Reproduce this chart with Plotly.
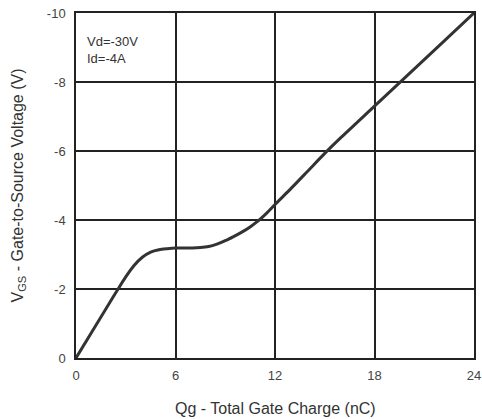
import plotly.graph_objects as go

qg_nc = [0, 1, 2, 2.5, 3, 3.5, 4, 4.5, 5, 5.5, 6, 6.5, 7, 7.5, 8, 8.5, 9, 9.5, 10, 10.5, 11, 11.5, 12, 13, 14, 15, 16, 18, 20, 22, 24]
vgs_v = [0, -0.79, -1.58, -1.97, -2.35, -2.68, -2.92, -3.07, -3.14, -3.17, -3.19, -3.19, -3.19, -3.2, -3.23, -3.3, -3.4, -3.52, -3.65, -3.8, -3.98, -4.2, -4.45, -4.93, -5.43, -5.93, -6.4, -7.3, -8.2, -9.1, -10.0]

x_ticks = [0, 6, 12, 18, 24]
y_ticks = [0, -2, -4, -6, -8, -10]

FONT = "Liberation Sans, Arial, sans-serif"

fig = go.Figure()
fig.add_trace(go.Scatter(x=qg_nc, y=vgs_v, mode="lines",
                         line=dict(color="#333333", width=3, shape="spline", smoothing=0.8),
                         showlegend=False, hoverinfo="skip"))

axis_common = dict(showgrid=True, gridcolor="#222222", gridwidth=1.5,
                   showline=True, linecolor="#222222", linewidth=1.5, mirror=True,
                   zeroline=False, ticks="", automargin=False,
                   tickfont=dict(family=FONT, size=13, color="#444444"))

fig.update_xaxes(range=[0, 24], tickvals=x_ticks, ticktext=[str(v) for v in x_ticks],
                 ticklabelstandoff=5, **axis_common)
fig.update_yaxes(range=[0, -10], tickvals=y_ticks, ticktext=[str(v) for v in y_ticks],
                 ticklabelstandoff=6, **axis_common)

fig.add_annotation(x=0.5, y=0, xref="paper", yref="paper", xanchor="center", yanchor="middle",
                   yshift=-50, showarrow=False, text="Qg - Total Gate Charge (nC)",
                   font=dict(family=FONT, size=16, color="#333333"))
fig.add_annotation(x=0, y=0.5, xref="paper", yref="paper", xanchor="center", yanchor="middle",
                   xshift=-58, showarrow=False, textangle=-90,
                   text="V<sub>GS</sub> - Gate-to-Source Voltage (V)",
                   font=dict(family=FONT, size=16, color="#333333"))

fig.add_annotation(x=0, y=1, xref="paper", yref="paper", xanchor="left", yanchor="top",
                   xshift=9, yshift=-19, showarrow=False, align="left",
                   text="Vd=-30V<br>Id=-4A",
                   font=dict(family=FONT, size=13, color="#333333"))

fig.update_layout(width=482, height=419, margin=dict(l=76, r=8, t=13, b=61),
                  plot_bgcolor="white", paper_bgcolor="white")

fig.write_html("out.html", config={"displayModeBar": False},
               post_script="document.body.style.margin='0';document.body.style.overflow='hidden';")
